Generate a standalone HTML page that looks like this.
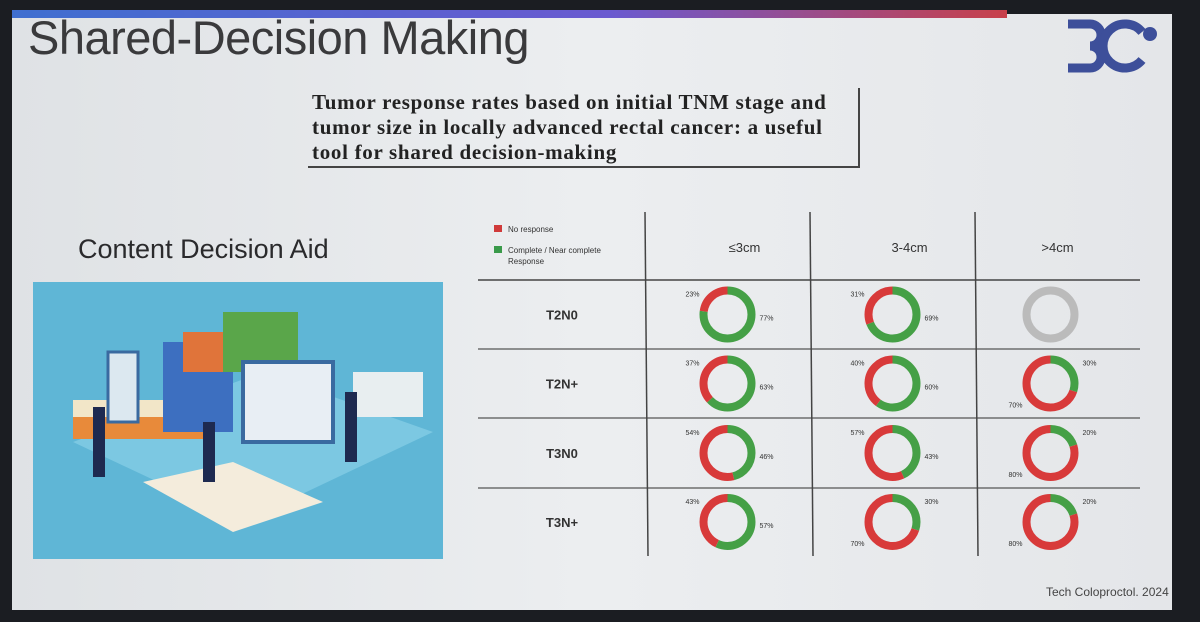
<!DOCTYPE html>
<html><head><meta charset="utf-8"><style>
html,body{margin:0;padding:0;width:1200px;height:622px;overflow:hidden;background:#1b1d22;font-family:"Liberation Sans",sans-serif}
#slide{position:absolute;left:12px;top:14px;width:1160px;height:596px;background:linear-gradient(90deg,#dfe2e5,#eceef0 50%,#e4e6e9);}
#bar{position:absolute;left:12px;top:10px;width:995px;height:8px;background:linear-gradient(90deg,#3f6fd0,#6a5ad0 60%,#c8404a)}
.t{position:absolute;white-space:nowrap}
</style></head><body>
<div id="slide"></div>
<div id="bar"></div>
<div class="t" style="left:28px;top:10px;font-size:47px;color:#3a3a3c;letter-spacing:-0.5px">Shared-Decision Making</div>
<svg style="position:absolute;left:1060px;top:14px" width="100" height="60">
<path d="M8 10h22a11 11 0 0 1 0 22a11 11 0 0 1 0 22H8" fill="none" stroke="#3d4f9a" stroke-width="9"/>
<path d="M82 18a22 22 0 1 0 0 28" fill="none" stroke="#3d4f9a" stroke-width="9"/>
<circle cx="90" cy="20" r="7" fill="#3d4f9a"/></svg>
<div style="position:absolute;left:308px;top:88px;width:552px;height:80px;border-right:2px solid #444;border-bottom:2px solid #444;font-family:'Liberation Serif',serif;font-weight:bold;font-size:21px;line-height:25px;color:#222;padding:2px 0 0 4px;box-sizing:border-box;white-space:nowrap;letter-spacing:0.7px">Tumor response rates based on initial TNM stage and<br>tumor size in locally advanced rectal cancer: a useful<br>tool for shared decision-making</div>
<div class="t" style="left:78px;top:234px;font-size:27px;color:#2a2a2c">Content Decision Aid</div>
<svg style="position:absolute;left:33px;top:282px" width="410" height="277">
<rect width="410" height="277" fill="#5fb6d6"/>
<polygon points="40,160 230,90 400,150 210,240" fill="#7cc8e2"/>
<rect x="40" y="135" width="140" height="22" fill="#e88a3a"/><rect x="40" y="118" width="140" height="17" fill="#f2e6c8"/>
<rect x="130" y="60" width="70" height="90" fill="#3d6fc0"/><rect x="150" y="50" width="70" height="40" fill="#e0743a"/>
<rect x="190" y="30" width="75" height="60" fill="#5aa64a"/>
<rect x="210" y="80" width="90" height="80" fill="#e8eef4" stroke="#3a6aa0" stroke-width="4"/>
<rect x="75" y="70" width="30" height="70" fill="#dce8f0" stroke="#3a6aa0" stroke-width="3"/>
<polygon points="110,200 200,180 290,220 200,250" fill="#f4ecdc"/>
<rect x="320" y="90" width="70" height="45" fill="#e8eef0"/>
<rect x="60" y="125" width="12" height="70" fill="#1e2a50"/><rect x="170" y="140" width="12" height="60" fill="#1e2a50"/><rect x="312" y="110" width="12" height="70" fill="#1e2a50"/>
</svg>
<svg id="chart" style="position:absolute;left:0;top:0" width="1200" height="622"></svg>
<div class="t" style="left:1046px;top:585px;font-size:12px;color:#444">Tech Coloproctol. 2024</div>
<script>
const rows=["T2N0","T2N+","T3N0","T3N+"];
const cols=["≤3cm","3-4cm",">4cm"];
const complete=[[77,69,null],[63,60,30],[46,43,20],[57,30,20]];
const noResp=[[23,31,null],[37,40,70],[54,57,80],[43,70,80]];
const NS="http://www.w3.org/2000/svg";
const svg=document.getElementById('chart');
function mk(t,a){const e=document.createElementNS(NS,t);for(const k in a)e.setAttribute(k,a[k]);svg.appendChild(e);return e;}
const colX=[645,810,975,1140], rowY=[280,349,418,488,556];
function cx(j){return (colX[j]+colX[j+1])/2+ (j==2?-7:0);}
function cy(i){return (rowY[i]+rowY[i+1])/2;}
let l;
l=mk('line',{x1:478,y1:rowY[0],x2:1140,y2:rowY[0],stroke:'#444','stroke-width':1.5});

for(let i=1;i<4;i++){l=mk('line',{x1:478,y1:rowY[i],x2:1140,y2:rowY[i],stroke:'#555','stroke-width':1.2});
}
for(let j=0;j<3;j++){l=mk('line',{x1:colX[j],y1:212,x2:colX[j]+3,y2:556,stroke:'#444','stroke-width':1.5});
}
let r=mk('rect',{x:494,y:225,width:8,height:7,fill:'#d03a3a'});
r=mk('rect',{x:494,y:246,width:8,height:7,fill:'#3a9a4a'});
function txt(x,y,s,size,extra){const t=mk('text',Object.assign({x:x,y:y,'font-size':size,fill:'#333','font-family':'Liberation Sans, sans-serif'},extra||{}));t.textContent=s;return t;}
let t=txt(508,232,'No response',8);
t=txt(508,253,'Complete / Near complete',8);
t=txt(508,264,'Response',8);
cols.forEach((c,j)=>{const t=txt(cx(j)+(j==2?7:17),252,c,13,{'text-anchor':'middle'});
});
rows.forEach((rw,i)=>{const t=txt(562,cy(i)+5,rw,13,{'text-anchor':'middle','font-weight':'bold'});
});
const R=24,W=8,C=2*Math.PI*R;
function arc(x,y,startFrac,frac,color){const c=mk('circle',{cx:x,cy:y,r:R,fill:'none',stroke:color,'stroke-width':W,
'stroke-dasharray':(frac*C)+' '+C,'stroke-dashoffset':-startFrac*C,transform:`rotate(-90 ${x} ${y})`});return c;}
for(let i=0;i<4;i++)for(let j=0;j<3;j++){
 const x=cx(j),y=cy(i);
 if(complete[i][j]==null){const c=mk('circle',{cx:x,cy:y,r:R,fill:'none',stroke:'#bbbbbb','stroke-width':W});
  continue;}
 const g=complete[i][j]/100,rd=noResp[i][j]/100;
 let a=arc(x,y,0,g,'#45a046');
 a=arc(x,y,g,rd,'#d83a3a');
 let t=txt(x+R+8,y+(g>0.4?6:-R+6),complete[i][j]+'%',7);
 t=txt(x-R-4,y+(rd>0.6?R:-R+6),noResp[i][j]+'%',7,{'text-anchor':'end'});
}
</script>
</body></html>
